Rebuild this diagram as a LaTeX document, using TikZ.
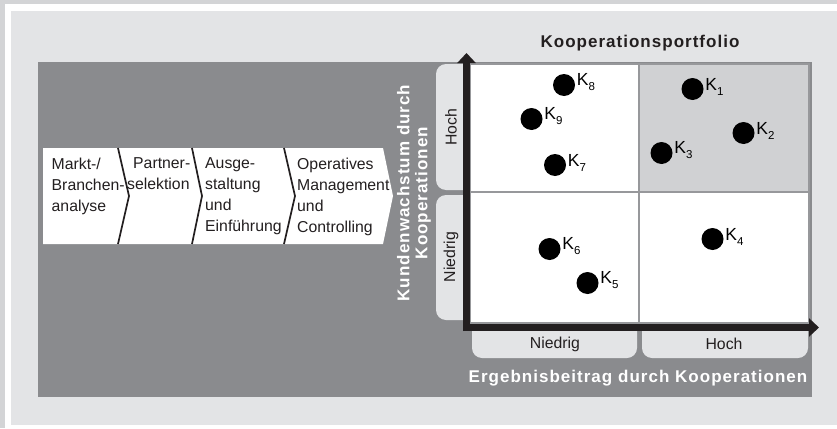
\documentclass[tikz,border=0pt]{standalone}
\usepackage{fontspec}
\setmainfont{Liberation Sans}
\newfontfamily\spacedfont[LetterSpace=6]{Liberation Sans}
\usetikzlibrary{arrows.meta}
\definecolor{bglight}{HTML}{E3E4E6}
\definecolor{bgshadow}{HTML}{D3D4D6}
\definecolor{panel}{HTML}{8A8B8E}
\definecolor{graycell}{HTML}{D0D1D3}
\definecolor{cellline}{HTML}{97989B}
\definecolor{ink}{HTML}{231F20}
\tikzset{
  cellbox/.style={draw=cellline, line width=2.5pt},
  tabbox/.style={fill=bglight, rounded corners=10pt},
  procline/.style={draw=ink, line width=1.7pt, line join=miter},
  proctext/.style={anchor=north west, inner sep=0pt, align=left, text=ink,
    font=\fontsize{15.8}{21}\selectfont},
  tablab/.style={inner sep=0pt, text=ink, font=\fontsize{15.8}{18}\selectfont},
  dot/.style={circle, fill=black, minimum size=22pt, inner sep=0pt},
  klab/.style={anchor=west, inner sep=0pt, text=black, font=\fontsize{17.5}{19}\selectfont},
  axlab/.style={inner sep=0pt, align=center, font=\spacedfont\bfseries\fontsize{17}{18}\selectfont},
  axis/.style={line width=7pt, draw=ink, -{Triangle[length=10pt,width=18pt]}},
}
\newcommand{\kk}[1]{K\raisebox{-5pt}{\fontsize{11.5}{12}\selectfont #1}}
\begin{document}
\begin{tikzpicture}[x=1pt, y=-1pt]
\useasboundingbox (0,0) rectangle (837,428);
% frame
\fill[bglight] (0,0) rectangle (837,428);
\fill[bgshadow] (0,0) rectangle (837,4);
\fill[bgshadow] (0,0) rectangle (5,428);
\fill[white] (5,4) rectangle (837,11);
\fill[white] (5,4) rectangle (11,428);
\fill[white] (11,425) rectangle (837,428);
\fill[bglight] (11,11) rectangle (837,425);
% dark panel
\fill[panel] (38,62) rectangle (812,397);
% title
\node[axlab, text=ink] (title) at (640,43.5) {Kooperationsportfolio};
% process chevrons
\fill[white] (43,148) -- (383,148) -- (393,196) -- (383,244) -- (43,244) -- cycle;
\draw[procline] (118,148) -- (129,196) -- (118,244);
\draw[procline] (192,148) -- (202,196) -- (192,244);
\draw[procline] (284,148) -- (295,196) -- (284,244);
\node[proctext] (p1) at (51.5,157.5) {Markt-/\\Branchen-\\analyse};
\node[proctext] (p2) at (127,157.5) {\hspace*{6pt}Partner-\\selektion};
\node[proctext] (p3) at (205,157.5) {Ausge-\\staltung\\und\\Einführung};
\node[proctext] (p4) at (297,157.5) {Operatives\\Management\\und\\Controlling};
% tabs
\fill[tabbox] (436,64) rectangle (490,190);
\fill[tabbox] (436,195) rectangle (490,320);
\fill[tabbox] (472,300) rectangle (637,358);
\fill[tabbox] (642,300) rectangle (808,358);
% cells
\draw[cellbox, fill=white] (470,64) rectangle (639,192);
\draw[cellbox, fill=graycell] (639,64) rectangle (809,192);
\draw[cellbox, fill=white] (470,192) rectangle (639,323);
\draw[cellbox, fill=white] (639,192) rectangle (809,323);
% tab labels
\node[tablab, rotate=90] (yh) at (451,127) {Hoch};
\node[tablab, rotate=90] (yn) at (451,257) {Niedrig};
\node[tablab] (xn) at (555,344) {Niedrig};
\node[tablab] (xh) at (724,344) {Hoch};
% axis labels
\node[axlab, text=white, rotate=90] (ylab) at (414,193) {Kundenwachstum durch\\Kooperationen};
\node[axlab, text=white] (xlab) at (638,378) {Ergebnisbeitrag durch Kooperationen};
% dots
\node[dot] (k1) at (692.5,89) {};
\node[dot] (k2) at (743.5,133) {};
\node[dot] (k3) at (661.5,153) {};
\node[dot] (k4) at (712.5,239) {};
\node[dot] (k5) at (587.5,283) {};
\node[dot] (k6) at (549.5,249) {};
\node[dot] (k7) at (555,165) {};
\node[dot] (k8) at (564,85) {};
\node[dot] (k9) at (531.5,119) {};
\foreach \i in {1,...,9} {
  \node[klab] (l\i) at ([xshift=1.5pt,yshift=2.5pt]k\i.east) {\kk{\i}};
}
% axes
\coordinate (orig) at (466.5,331);
\coordinate (ytip) at (466.5,53);
\coordinate (xorig) at (463,327.5);
\coordinate (xtip) at (819,327.5);
\draw[axis] (orig) -- (ytip);
\draw[axis] (xorig) -- (xtip);
\end{tikzpicture}
\end{document}
